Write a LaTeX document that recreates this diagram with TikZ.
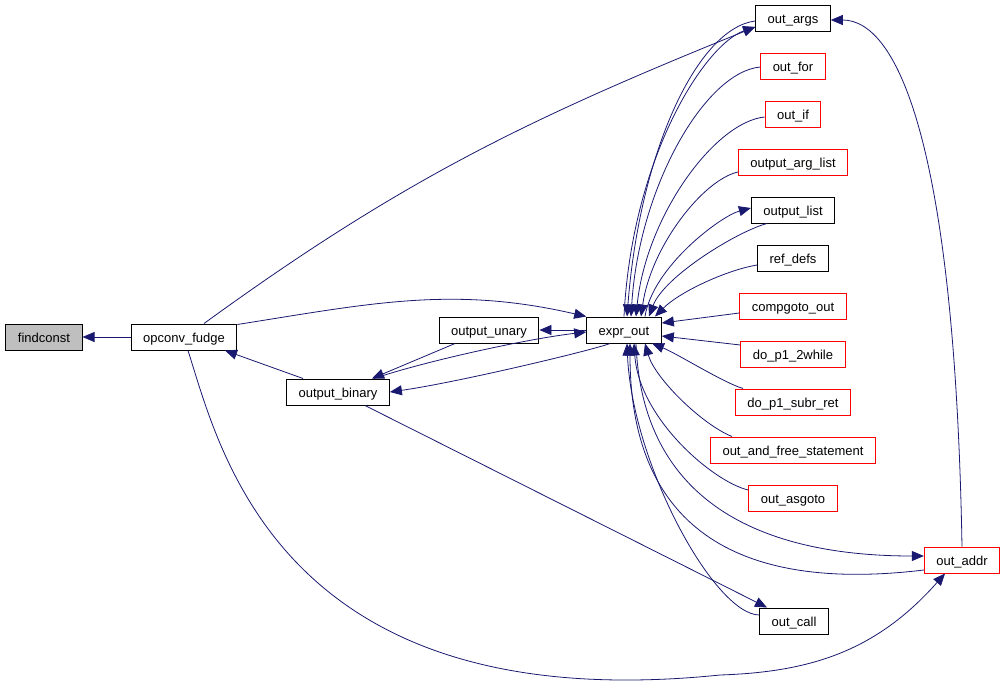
\documentclass[tikz,border=0pt]{standalone}
\usepackage{fontspec}
\setmainfont{Liberation Sans}
\usepackage{tikz}
\usetikzlibrary{arrows.meta}
\definecolor{edgeblue}{RGB}{25,25,112}
\tikzstyle{normalnode}=[draw,%
                          rectangle,%
                          line width    = 1pt,%
                          inner xsep    = 12pt,%
                          minimum height= 26pt,%
                          text height   = 11pt,%
                          text depth    = 0pt,%
                          node distance = 48pt,%
                          font=\fontsize{13}{15}\selectfont]
\tikzstyle{undocnode}=[normalnode,draw=red]
\tikzstyle{rootnode}=[normalnode,fill=gray!50]
\tikzstyle{callline}=[draw=edgeblue,line width=0.8pt,-{Triangle[length=12pt,width=10pt]}]

\begin{document}
\begin{tikzpicture}[x=1pt,y=1pt]
            \useasboundingbox (0,0) rectangle (1005,-697);
            % left part
            \node[rootnode] (findconst) at (44,-337) {findconst};
            \node[normalnode][node distance=140pt,right of=findconst] (opconv) {opconv\_fudge};
            \node[normalnode] (binary) at (338,-392) {output\_binary};
            \node[normalnode] (unary) at (489,-330) {output\_unary};
            \node[normalnode][node distance=135pt,right of=unary] (exprout) {expr\_out};
            % column on the right
            \node[normalnode] (outargs) at (793,-18) {out\_args};
            \node[undocnode][below of=outargs] (outfor) {out\_for};
            \node[undocnode][below of=outfor] (outif) {out\_if};
            \node[undocnode][below of=outif] (arglist) {output\_arg\_list};
            \node[normalnode][below of=arglist] (outlist) {output\_list};
            \node[normalnode][below of=outlist] (refdefs) {ref\_defs};
            \node[undocnode][below of=refdefs] (compgoto) {compgoto\_out};
            \node[undocnode][below of=compgoto] (dowhile) {do\_p1\_2while};
            \node[undocnode][below of=dowhile] (subrret) {do\_p1\_subr\_ret};
            \node[undocnode][below of=subrret] (outfree) {out\_and\_free\_statement};
            \node[undocnode][below of=outfree] (asgoto) {out\_asgoto};
            \node[undocnode] (outaddr) at (962,-560) {out\_addr};
            \node[normalnode] (outcall) at (794,-621) {out\_call};
            % opconv_fudge
            \draw [callline] (opconv) -- (findconst);
            \draw [callline] ([xshift=20pt]opconv.north) to[out=36,in=202] ([yshift=-9pt]outargs.west);
            \draw [callline] ([yshift=-1pt]opconv.north east) to[out=9,in=167] (exprout.north west);
            \draw [callline] ([xshift=4pt]opconv.south) .. controls +(32,-100) and +(-440,-45) .. (720,-675) .. controls +(90,3) and +(-69,-78) .. ([xshift=-17pt]outaddr.south);
            % output_binary / output_unary
            \draw [callline] ([xshift=-35pt]binary.north) -- ([xshift=41pt]opconv.south);
            \draw [callline] (exprout.west) -- (unary.east);
            \draw [callline] ([xshift=36pt]binary.north) .. controls +(50,17) and +(-60,-7) .. ([yshift=-2pt]exprout.west);
            \draw [callline] ([xshift=-34pt]unary.south) -- ([xshift=34pt]binary.north);
            \draw [callline] ([xshift=-14pt]exprout.south) .. controls +(-15,-6) and +(70,10) .. (binary.east);
            \draw [callline] ([xshift=27pt]binary.south) -- ([xshift=-27pt]outcall.north);
            % into expr_out from above
            \draw [callline] ([yshift=-3pt]outargs.west) .. controls +(-57,-7) and +(13,167) .. ([xshift=3pt]exprout.north);
            \draw [callline] (exprout.north) .. controls +(8,160) and +(-50,-17) .. ([yshift=-9pt]outargs.west);
            \draw [callline] ([yshift=-1pt]outfor.west) .. controls +(-55,-5) and +(8,130) .. ([xshift=7pt]exprout.north);
            \draw [callline] ([yshift=-3pt]outif.west) .. controls +(-50,-5) and +(10,100) .. ([xshift=12pt]exprout.north);
            \draw [callline] ([yshift=-10pt]arglist.west) .. controls +(-35,-8) and +(10,70) .. ([xshift=17pt]exprout.north);
            \draw [callline] ([xshift=21pt]exprout.north) .. controls +(8,50) and +(-30,-8) .. ([yshift=2pt]outlist.west);
            \draw [callline] ([xshift=-26pt]outlist.south) .. controls +(-30,-8) and +(15,40) .. ([xshift=25pt]exprout.north);
            \draw [callline] ([yshift=-7pt]refdefs.west) .. controls +(-30,-5) and +(25,25) .. ([xshift=31pt]exprout.north);
            % from the side and below
            \draw [callline] ([yshift=-7pt]compgoto.west) -- ([yshift=7pt]exprout.east);
            \draw [callline] ([yshift=9pt]dowhile.west) -- ([yshift=-6pt]exprout.east);
            \draw [callline] ([xshift=-50pt]subrret.north) .. controls +(-20,6) and +(25,-10) .. ([xshift=28pt]exprout.south);
            \draw [callline] ([xshift=-61pt]outfree.north) .. controls +(-30,12) and +(10,-35) .. ([xshift=21pt]exprout.south);
            \draw [callline] ([yshift=8pt]asgoto.west) .. controls +(-35,8) and +(5,-75) .. ([xshift=10pt]exprout.south);
            \draw [callline] ([xshift=12pt]exprout.south) .. controls +(6,-157) and +(-165,0) .. ([yshift=4pt]outaddr.west);
            \draw [callline] ([yshift=-10pt]outaddr.west) .. controls +(-165,-20) and +(0,-201) .. ([xshift=6pt]exprout.south);
            \draw [callline] ([yshift=6pt]outcall.west) .. controls +(-45,1) and +(5,-120) .. ([xshift=3pt]exprout.south);
            \draw [callline] (outaddr.north) .. controls +(-7,397) and +(68,0) .. ([yshift=-2pt]outargs.east);
\end{tikzpicture}
\end{document}
